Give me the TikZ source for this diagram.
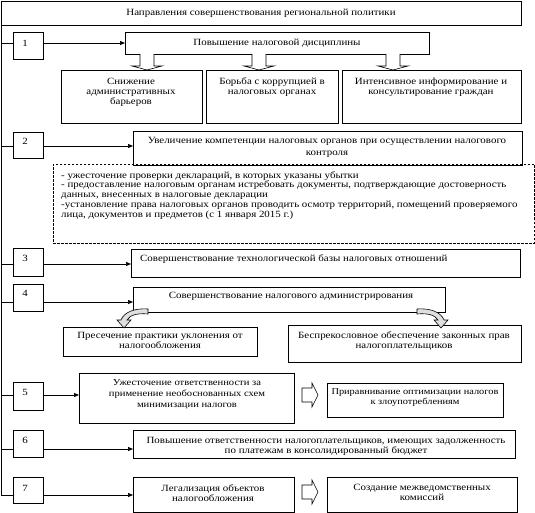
\documentclass[tikz,border=0pt]{standalone}
\usepackage{fontspec}
\setmainfont{Liberation Serif}[FakeStretch=1.15]
\usetikzlibrary{arrows.meta,calc}
\newcommand\dblk[3]{\draw[blk] let \p1=(#2.south), \p2=(#3.north) in (#1pt-7pt,\y1) -- (#1pt-7pt,\y2+4pt) -- (#1pt-15pt,\y2+4pt) -- (#1pt,\y2) -- (#1pt+15pt,\y2+4pt) -- (#1pt+7pt,\y2+4pt) -- (#1pt+7pt,\y1);}
\newcommand\rblk[4]{\draw[blk] let \p1=(#1.east), \p2=(#2.west), \p3=(#3) in (\x1+8pt,\y3+#4pt+7pt) -- (\x2-15pt,\y3+#4pt+7pt) -- (\x2-15pt,\y3+#4pt+12pt) -- (\x2-9pt,\y3+#4pt) -- (\x2-15pt,\y3+#4pt-12pt) -- (\x2-15pt,\y3+#4pt-7pt) -- (\x1+8pt,\y3+#4pt-7pt) -- cycle;}
\begin{document}
\begin{tikzpicture}[x=1pt,y=-1pt,
  bx/.style={draw, line width=0.7pt, inner sep=0pt, outer sep=0pt, anchor=north west},
  dbx/.style={bx, dash pattern=on 2.5pt off 1.5pt},
  tx/.style={inner sep=0pt, align=center, font=\fontsize{9.5}{10}\selectfont},
  dtx/.style={inner sep=0pt, align=left, anchor=north west, font=\fontsize{9.5}{9.75}\selectfont},
  num/.style={inner sep=0pt, font=\fontsize{9.5}{10}\selectfont},
  arr/.style={line width=0.7pt, -{Triangle[length=5pt,width=4pt]}},
  ln/.style={line width=0.7pt},
  blk/.style={draw, line width=0.6pt, fill=white},
  crv/.style={draw, line width=0.6pt, fill=gray!25}]
\fill[white] (0,0) rectangle (535,513);
\useasboundingbox (0,0) rectangle (535,513);

% title
\node[bx, minimum width=520, minimum height=24] (title) at (1,1) {};
\node[tx] (titlet) at (261,13) {Направления совершенствования региональной политики};

% row coordinates on the spine
\coordinate (j1) at (1,43);
\coordinate (j2) at (1,146);
\coordinate (j3) at (1,264);
\coordinate (j4) at (1,302);
\coordinate (j5) at (1,395);
\coordinate (j6) at (1,449);
\coordinate (j7) at (1,495);
\draw[ln] (title.south west) -- (j7);

% row 1
\node[bx, minimum width=30, minimum height=27] (n1) at (13,32) {};
\node[num] (n1t) at (25,43) {1};
\node[bx, minimum width=304, minimum height=22] (m1) at (125,32) {};
\node[tx] (m1t) at (277,43) {Повышение налоговой дисциплины};
\node[bx, minimum width=141, minimum height=53] (s1a) at (61,70) {};
\node[tx, anchor=north] (s1at) at (131,78) {Снижение\\административных\\барьеров};
\node[bx, minimum width=132, minimum height=53] (s1b) at (206,70) {};
\node[tx, anchor=north] (s1bt) at (272,78) {Борьба с коррупцией в\\налоговых органах};
\node[bx, minimum width=179, minimum height=53] (s1c) at (342,70) {};
\node[tx, anchor=north] (s1ct) at (431,78) {Интенсивное информирование и\\консультирование граждан};
\draw[ln] (j1) -- (j1 -| n1.west);
\draw[arr] (j1 -| n1.east) -- (j1 -| m1.west);
\dblk{147}{m1}{s1a}
\dblk{259}{m1}{s1b}
\dblk{393}{m1}{s1c}

% row 2
\node[bx, minimum width=30, minimum height=26] (n2) at (13,132) {};
\node[num] (n2t) at (25,141) {2};
\node[bx, minimum width=389, minimum height=34] (m2) at (133,131) {};
\node[tx, anchor=north, font=\fontsize{9.5}{12}\selectfont] (m2t) at (327,137) {Увеличение компетенции налоговых органов при осуществлении налогового\\контроля};
\node[dbx, minimum width=481, minimum height=79] (d2) at (53,164) {};
\node[dtx] (d2t) at (61,171) {- ужесточение проверки деклараций, в которых указаны убытки\\
- предоставление налоговым органам истребовать документы, подтверждающие достоверность\\
данных, внесенных в налоговые декларации\\
-установление права налоговых органов проводить осмотр территорий, помещений проверяемого\\
лица, документов и предметов (с 1 января 2015 г.)};
\draw[ln] (j2) -- (j2 -| n2.west);
\draw[arr] (j2 -| n2.east) -- (j2 -| m2.west);

% row 3
\node[bx, minimum width=30, minimum height=28] (n3) at (13,248) {};
\node[num] (n3t) at (25,258) {3};
\node[bx, minimum width=389, minimum height=28] (m3) at (131,249) {};
\node[tx, anchor=west] (m3t) at (140,259) {Совершенствование технологической базы налоговых отношений};
\draw[ln] (j3) -- (j3 -| n3.west);
\draw[arr] (j3 -| n3.east) -- (j3 -| m3.west);

% row 4
\node[bx, minimum width=30, minimum height=27] (n4) at (13,284) {};
\node[num] (n4t) at (25,293) {4};
\node[bx, minimum width=312, minimum height=25] (m4) at (133,287) {};
\node[tx] (m4t) at (291,296) {Совершенствование налогового администрирования};
\node[bx, minimum width=194, minimum height=29] (s4a) at (63,327) {};
\node[tx, anchor=north] (s4at) at (160,332) {Пресечение практики уклонения от\\налогообложения};
\node[bx, minimum width=233, minimum height=37] (s4b) at (288,325) {};
\node[tx, anchor=north] (s4bt) at (404,331) {Беспрекословное обеспечение законных прав\\налогоплательщиков};
\draw[ln] (j4) -- (j4 -| n4.west);
\draw[arr] (j4 -| n4.east) -- (j4 -| m4.west);
\begin{scope}[shift={(m4.south west)}]
\draw[crv] (15,-3) .. controls (2,-4) and (-9,0) .. (-12,8) -- (-16,8) -- (-9,16) -- (-2,8) -- (-6,8) .. controls (-3,3) and (4,1) .. (15,2) -- cycle;
\end{scope}
\begin{scope}[shift={(m4.south east)}, xshift=-13pt, xscale=-1]
\draw[crv] (15,-3) .. controls (2,-4) and (-9,0) .. (-12,8) -- (-16,8) -- (-9,16) -- (-2,8) -- (-6,8) .. controls (-3,3) and (4,1) .. (15,2) -- cycle;
\end{scope}

% row 5
\node[bx, minimum width=30, minimum height=28] (n5) at (13,382) {};
\node[num] (n5t) at (25,392) {5};
\node[bx, minimum width=215, minimum height=50] (m5) at (79,373) {};
\node[tx, anchor=north, font=\fontsize{9.2}{11.3}\selectfont] (m5t) at (187,379) {Ужесточение ответственности за\\применение необоснованных схем\\минимизации налогов};
\node[bx, minimum width=176, minimum height=34] (r5) at (327,383) {};
\node[tx, anchor=north, font=\fontsize{9}{10}\selectfont] (r5t) at (415,388) {Приравнивание оптимизации налогов\\к злоупотреблениям};
\draw[ln] (j5) -- (j5 -| n5.west);
\draw[arr] (j5 -| n5.east) -- (j5 -| m5.west);
\rblk{m5}{r5}{j5}{0}

% row 6
\node[bx, minimum width=30, minimum height=27] (n6) at (13,430) {};
\node[num] (n6t) at (25,440) {6};
\node[bx, minimum width=382, minimum height=28] (m6) at (133,430) {};
\node[tx, anchor=north] (m6t) at (326,437) {Повышение ответственности налогоплательщиков, имеющих задолженность\\по платежам в консолидированный бюджет};
\draw[ln] (j6) -- (j6 -| n6.west);
\draw[arr] (j6 -| n6.east) -- (j6 -| m6.west);

% row 7
\node[bx, minimum width=30, minimum height=26] (n7) at (13,477) {};
\node[num] (n7t) at (25,488) {7};
\node[bx, minimum width=161, minimum height=35] (m7) at (133,477) {};
\node[tx, anchor=north] (m7t) at (213,484) {Легализация объектов\\налогообложения};
\node[bx, minimum width=190, minimum height=35] (r7) at (327,477) {};
\node[tx, anchor=north] (r7t) at (422,484) {Создание межведомственных\\комиссий};
\draw[ln] (j7) -- (j7 -| n7.west);
\draw[arr] (j7 -| n7.east) -- (j7 -| m7.west);
\rblk{m7}{r7}{j7}{3}
\end{tikzpicture}
\end{document}
